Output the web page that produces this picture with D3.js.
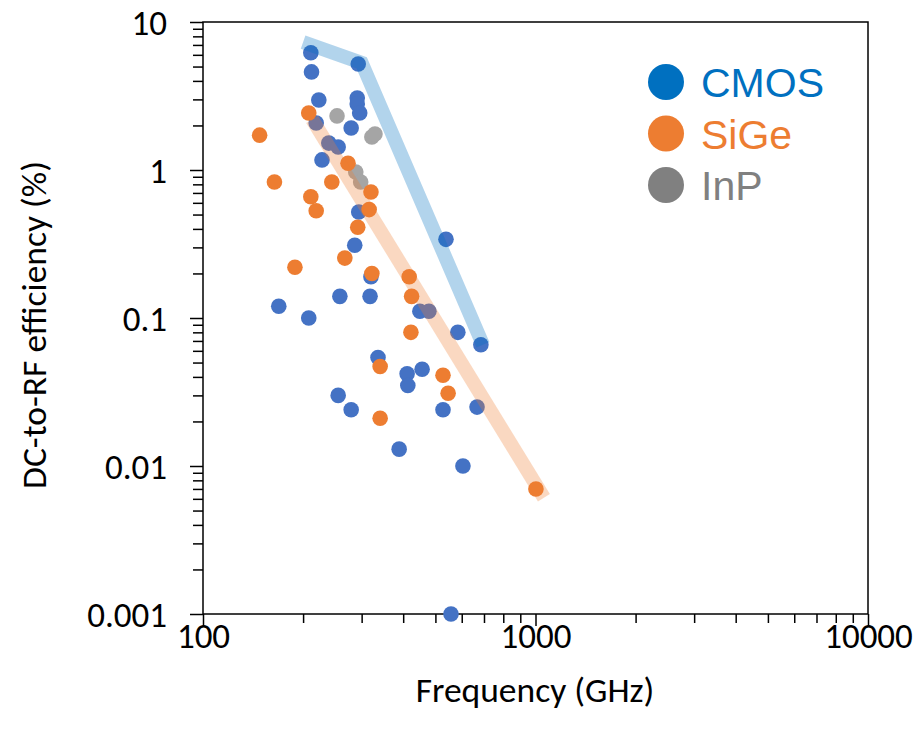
<!DOCTYPE html>
<html>
<head>
<meta charset="utf-8">
<script src="https://cdn.jsdelivr.net/npm/d3@7.9.0/dist/d3.min.js"></script>
<style>
  html, body { margin: 0; padding: 0; background: #fff; }
  svg { display: block; }
  .tick-lbl { font-family: Carlito, "Liberation Sans", Arial, sans-serif; font-size: 35px; fill: #000; }
  .title { font-family: Carlito, "Liberation Sans", Arial, sans-serif; font-size: 35.5px; fill: #000; }
  .legend text { font-family: "Liberation Sans", Arial, sans-serif; font-size: 41px; }
</style>
</head>
<body>
<svg id="chart" width="920" height="735"></svg>
<script>
// ===== data =====
const cmosFreq = [211, 212, 223, 293, 291, 291, 296, 219, 279, 239, 255, 228, 294, 286, 538, 320, 258, 318,
                  169, 208, 449, 478, 336, 411, 413, 456, 255, 279, 527, 667, 389, 605, 557, 584, 685];
const cmosEff  = [6.2, 4.6, 2.97, 5.2, 3.06, 2.79, 2.43, 2.08, 1.92, 1.52, 1.43, 1.17, 0.52, 0.31, 0.34, 0.19, 0.14, 0.14,
                  0.12, 0.10, 0.111, 0.111, 0.054, 0.042, 0.035, 0.045, 0.030, 0.024, 0.024, 0.025, 0.013, 0.010, 0.001, 0.080, 0.066];

const sigeFreq = [148, 164, 208, 211, 219, 244, 273, 320, 316, 292, 267, 189, 322, 417, 424, 422, 341, 527, 546, 341, 1003];
const sigeEff  = [1.72, 0.83, 2.43, 0.66, 0.53, 0.83, 1.11, 0.71, 0.54, 0.41, 0.254, 0.22, 0.20, 0.19, 0.14, 0.080, 0.047, 0.041, 0.031, 0.021, 0.007];

const inpFreq = [253, 322, 329, 288, 298];
const inpEff  = [2.32, 1.67, 1.75, 0.97, 0.83];

// trend bands
const cmosTrendFreq = [200, 300, 695];
const cmosTrendEff  = [7.3, 5.3, 0.066];
const sigeTrendFreq = [213, 1060];
const sigeTrendEff  = [2.2, 0.0061];

const xMajor = [100, 1000, 10000];
const yMajor = [0.001, 0.01, 0.1, 1, 10];

const seriesNames  = ['CMOS', 'SiGe', 'InP'];
const legendColors = ['#0070C0', '#ED7D31', '#808080'];

// ===== layout =====
const W = 920, H = 735;
const margin = { top: 22, right: 52, bottom: 121, left: 203 };
const svg = d3.select('#chart');

const x = d3.scaleLog().domain([100, 10000]).range([margin.left, W - margin.right]);
const y = d3.scaleLog().domain([0.001, 10]).range([H - margin.bottom, margin.top]);

// minor tick values (2..9 x each decade)
function minors(lo, hi) {
  const out = [];
  for (let d = lo; d < hi; d *= 10) for (let k = 2; k <= 9; k++) out.push(d * k);
  return out;
}

// ===== axes =====
const xMinorAxis = d3.axisBottom(x).tickValues(minors(100, 10000)).tickSize(9).tickFormat('');
const xMajorAxis = d3.axisBottom(x).tickValues(xMajor).tickSize(12).tickFormat(d3.format('d'));
const yMinorAxis = d3.axisLeft(y).tickValues(minors(0.001, 10)).tickSize(10).tickFormat('');
const yMajorAxis = d3.axisLeft(y).tickValues(yMajor).tickSize(13).tickPadding(23).tickFormat(d => String(d));

function styleAxis(g) {
  g.select('.domain').remove();
  g.selectAll('.tick line').attr('stroke', '#000').attr('stroke-width', 1.5);
  g.selectAll('.tick text').attr('class', 'tick-lbl').attr('font-size', null).attr('font-family', null);
}

const xb = H - margin.bottom;
svg.append('g').attr('transform', `translate(0,${xb})`).call(xMinorAxis).call(styleAxis);
svg.append('g').attr('transform', `translate(0,${xb})`).call(xMajorAxis).call(styleAxis)
  .selectAll('.tick text').attr('y', 22).attr('dy', '0.35em');
svg.append('g').attr('transform', `translate(${margin.left},0)`).call(yMinorAxis).call(styleAxis);
svg.append('g').attr('transform', `translate(${margin.left},0)`).call(yMajorAxis).call(styleAxis)
  .selectAll('.tick text').attr('dy', '0.35em');

// frame
svg.append('rect')
  .attr('x', margin.left).attr('y', margin.top)
  .attr('width', W - margin.left - margin.right)
  .attr('height', H - margin.top - margin.bottom)
  .attr('fill', 'none').attr('stroke', '#000').attr('stroke-width', 1.5);

// ===== points =====
const plot = svg.append('g');
function drawPoints(fx, fy, color) {
  plot.append('g').selectAll('circle')
    .data(fx.map((f, i) => [f, fy[i]]))
    .join('circle')
    .attr('cx', d => x(d[0]))
    .attr('cy', d => y(d[1]))
    .attr('r', 7.8)
    .attr('fill', color);
}
drawPoints(cmosFreq, cmosEff, '#4472C4');
drawPoints(inpFreq, inpEff, '#A5A5A5');
drawPoints(sigeFreq, sigeEff, '#ED7D31');

// ===== trend bands (translucent, on top of points) =====
const line = d3.line().x(d => x(d[0])).y(d => y(d[1]));
function drawBand(fx, fy, color) {
  svg.append('path')
    .attr('d', line(fx.map((f, i) => [f, fy[i]])))
    .attr('fill', 'none')
    .attr('stroke', color)
    .attr('stroke-opacity', 0.3)
    .attr('stroke-width', 14)
    .attr('stroke-linejoin', 'miter')
    .attr('stroke-linecap', 'butt');
}
drawBand(cmosTrendFreq, cmosTrendEff, '#0070C0');
drawBand(sigeTrendFreq, sigeTrendEff, '#ED7D31');

// ===== axis titles =====
svg.append('text').attr('class', 'title')
  .attr('x', 535)
  .attr('y', 702)
  .attr('text-anchor', 'middle')
  .text('Frequency (GHz)');

svg.append('text').attr('class', 'title')
  .attr('transform', 'translate(46,325) rotate(-90)')
  .attr('text-anchor', 'middle')
  .text('DC-to-RF efficiency (%)');

// ===== legend =====
const legend = svg.append('g').attr('class', 'legend');
const lg = legend.selectAll('g').data(seriesNames).join('g')
  .attr('transform', (d, i) => `translate(666,${82 + i * 51.5})`);
lg.append('circle').attr('r', 18).attr('fill', (d, i) => legendColors[i]);
lg.append('text').attr('x', 35).attr('y', 15)
  .attr('fill', (d, i) => legendColors[i])
  .text(d => d);
</script>
</body>
</html>
